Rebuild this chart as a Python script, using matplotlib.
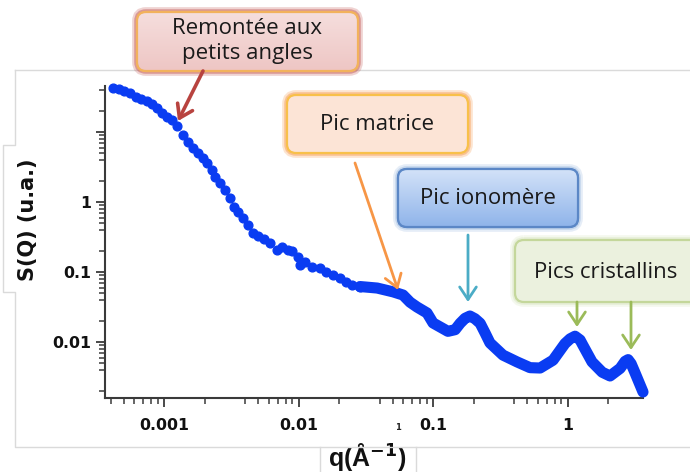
import matplotlib
matplotlib.use('Agg')
import matplotlib.pyplot as plt
from matplotlib.patches import FancyBboxPatch
from matplotlib.ticker import FixedLocator, FixedFormatter, LogLocator, NullFormatter
import numpy as np

# ---------------- data ----------------
q_sparse = [4.18e-4, 4.62e-4, 5.05e-4, 5.58e-4, 6.19e-4, 6.75e-4, 7.48e-4, 8.15e-4,
            8.87e-4, 9.66e-4, 1.052e-3, 1.146e-3, 1.25e-3, 1.384e-3, 1.507e-3, 1.644e-3,
            1.79e-3, 1.95e-3, 2.09e-3, 2.275e-3, 2.39e-3, 2.61e-3, 2.84e-3, 3.1e-3,
            3.31e-3, 3.55e-3, 3.86e-3, 4.22e-3, 4.59e-3, 5.0e-3, 5.53e-3, 6.14e-3,
            6.92e-3, 7.53e-3, 8.36e-3, 8.95e-3, 9.9e-3, 1.026e-2, 1.117e-2, 1.259e-2,
            1.445e-2, 1.6e-2, 1.807e-2, 2.04e-2, 2.25e-2, 2.5e-2, 2.86e-2]
S_sparse = [42.5, 41.1, 38.5, 36.1, 31.6, 29.6, 27.7, 25.1,
            22.0, 18.7, 16.4, 14.8, 12.2, 9.06, 7.2, 5.91,
            5.01, 4.25, 3.61, 2.86, 2.28, 1.87, 1.48, 1.14,
            0.848, 0.72, 0.59, 0.469, 0.361, 0.327, 0.296, 0.26,
            0.206, 0.228, 0.206, 0.2, 0.164, 0.126, 0.139, 0.118,
            0.114, 0.1, 0.0906, 0.082, 0.072, 0.0652, 0.062]

q_dense = [0.0286, 0.0384, 0.0505, 0.0598, 0.0675, 0.076, 0.0902, 0.1, 0.129, 0.146,
           0.159, 0.173, 0.188, 0.205, 0.224, 0.244, 0.265, 0.331, 0.421, 0.526,
           0.625, 0.78, 0.957, 1.045, 1.137, 1.239, 1.30, 1.52, 1.81, 2.07,
           2.46, 2.68, 2.82, 2.97, 3.18, 3.64]
S_dense = [0.062, 0.059, 0.052, 0.0469, 0.037, 0.0316, 0.026, 0.0187, 0.0142, 0.0150,
           0.0185, 0.0218, 0.0235, 0.0215, 0.0185, 0.0134, 0.0097, 0.0065, 0.0052, 0.0043,
           0.00425, 0.0055, 0.0095, 0.0111, 0.0121, 0.0107, 0.0090, 0.0052, 0.0037, 0.00327,
           0.0042, 0.0053, 0.0056, 0.0049, 0.0036, 0.00193]

x_major = [0.001, 0.01, 0.1, 1]
x_labels = ['0.001', '0.01', '0.1', '1']
y_major = [0.01, 0.1, 1, 10]
y_labels = ['0.01', '0.1', '1', '']

ann_texts = ['Remontée aux\npetits angles', 'Pic matrice', 'Pic ionomère', 'Pics cristallins']

# ---------------- figure ----------------
W, H = 690, 472
fig = plt.figure(figsize=(W / 100, H / 100), dpi=100)
fig.patch.set_facecolor('white')

ax = fig.add_axes([105 / W, 1 - 398 / H, (643 - 105) / W, (398 - 86) / H])
ax.set_xscale('log')
ax.set_yscale('log')
ax.set_xlim(10 ** -3.439, 10 ** 0.561)
ax.set_ylim(10 ** -2.8, 10 ** (116 / 70))

blue = '#0a3cf2'
ax.plot(q_dense, S_dense, '-', color=blue, lw=8, solid_capstyle='round',
        solid_joinstyle='round', zorder=3, clip_on=False)
ax.plot(q_sparse, S_sparse, 'o', color=blue, ms=6.3, mec=blue, zorder=3, clip_on=False)

for s in ['top', 'right']:
    ax.spines[s].set_visible(False)
for s in ['left', 'bottom']:
    ax.spines[s].set_color('#3a3a3a')
    ax.spines[s].set_linewidth(1.5)

ax.xaxis.set_major_locator(FixedLocator(x_major))
ax.xaxis.set_major_formatter(FixedFormatter(x_labels))
ax.yaxis.set_major_locator(FixedLocator(y_major))
ax.yaxis.set_major_formatter(FixedFormatter(y_labels))
subs = [2, 4, 5, 6, 7, 8, 9]
ax.xaxis.set_minor_locator(LogLocator(base=10, subs=subs, numticks=20))
ax.yaxis.set_minor_locator(LogLocator(base=10, subs=subs, numticks=20))
ax.xaxis.set_minor_formatter(NullFormatter())
ax.yaxis.set_minor_formatter(NullFormatter())
ax.tick_params(which='major', direction='out', length=6.5, width=1.3, color='#3a3a3a')
ax.tick_params(which='minor', direction='out', length=4, width=1.1, color='#3a3a3a')
ax.tick_params(axis='x', which='major', pad=8)
ax.tick_params(axis='y', which='major', pad=3.5)
for lab in ax.get_xticklabels() + ax.get_yticklabels():
    lab.set_fontfamily('DejaVu Sans')
    lab.set_fontweight('bold')
    lab.set_fontsize(11.3)
    lab.set_color('#111111')

# ---------------- overlay in pixel coords ----------------
ov = fig.add_axes([0, 0, 1, 1])
ov.set_xlim(0, W)
ov.set_ylim(H, 0)
ov.axis('off')
ov.set_zorder(5)

gray = '#dadada'
ov.plot([15, 15, 3, 3, 15, 15, 690], [70, 145, 145, 292, 292, 447, 447], color=gray, lw=1)
ov.plot([15, 690], [70, 70], color=gray, lw=1)
ov.plot([320, 320], [447, 472], color=gray, lw=1)
ov.plot([416, 416], [447, 472], color=gray, lw=1)

fig.text(28 / W, 1 - 220 / H, 'S(Q) (u.a.)', rotation=90, ha='center', va='center',
         fontsize=15, fontweight='bold', family='DejaVu Sans', color='#111111')
fig.text(367 / W, 1 - 457 / H, r'q(Å$^{\mathbf{-1}}$)', ha='center', va='center',
         fontsize=18, fontweight='bold', family='Liberation Sans', color='#111111')
fig.text(398 / W, 1 - 428 / H, '1', ha='center', va='center', fontsize=6,
         fontweight='bold', color='#222222')


def box(x0, y0, x1, y1, face, edge, glow, grad=None):
    for lw, a in [(7, 0.25), (4, 0.45)]:
        ov.add_patch(FancyBboxPatch((x0, y0), x1 - x0, y1 - y0,
                                    boxstyle='round,pad=0,rounding_size=9',
                                    fc='none', ec=glow, lw=lw, alpha=a, zorder=6))
    p = FancyBboxPatch((x0, y0), x1 - x0, y1 - y0,
                       boxstyle='round,pad=0,rounding_size=9',
                       fc=face, ec=edge, lw=1.6, zorder=7)
    ov.add_patch(p)
    if grad is not None:
        c0 = np.array(matplotlib.colors.to_rgb(grad[0]))
        c1 = np.array(matplotlib.colors.to_rgb(grad[1]))
        t = np.linspace(0, 1, 64)[:, None, None]
        img = c0 * (1 - t) + c1 * t
        im = ov.imshow(img, extent=[x0, x1, y1, y0], aspect='auto', zorder=7.5,
                       interpolation='bilinear')
        im.set_clip_path(p)
        ov.add_patch(FancyBboxPatch((x0, y0), x1 - x0, y1 - y0,
                                    boxstyle='round,pad=0,rounding_size=9',
                                    fc='none', ec=edge, lw=1.6, zorder=8))
        ov.set_xlim(0, W)
        ov.set_ylim(H, 0)


def arrow(x0, y0, x1, y1, color, lw=2.2):
    ov.annotate('', xy=(x1, y1), xytext=(x0, y0),
                arrowprops=dict(arrowstyle='->,head_length=0.45,head_width=0.3',
                                color=color, lw=lw, shrinkA=0, shrinkB=0,
                                mutation_scale=20), zorder=9)


tfont = dict(family='Open Sans', fontsize=16, color='#1a1a1a', ha='center', va='center', zorder=10)

box(137, 12, 358, 71, '#f2d2d0', '#f2b25c', '#c0504d', grad=('#f5dedd', '#eec6c4'))
ov.text(247, 41, ann_texts[0], linespacing=1.3, **tfont)
arrow(203, 71, 178, 121, '#b8433f', lw=2.6)

box(287, 95, 468, 153, '#fce4d6', '#f8c04a', '#f79646')
ov.text(377, 124, ann_texts[1], **tfont)
arrow(355, 163, 398, 290, '#f79646', lw=2)

box(398, 169, 578, 227, '#b3cdf2', '#5b87c6', '#9ab8e0', grad=('#d3e2f8', '#8fb4ea'))
ov.text(488, 198, ann_texts[2], **tfont)
arrow(468, 235, 468, 302, '#4bacc6', lw=2)

box(515, 240, 705, 302, '#ebf1de', '#c4d79b', '#d7e4bd')
ov.text(606, 272, ann_texts[3], **tfont)
arrow(577, 302, 577, 327, '#9bbb59', lw=2)
arrow(631, 302, 631, 350, '#9bbb59', lw=2)

ov.set_xlim(0, W)
ov.set_ylim(H, 0)

fig.savefig('out.png', dpi=100)
